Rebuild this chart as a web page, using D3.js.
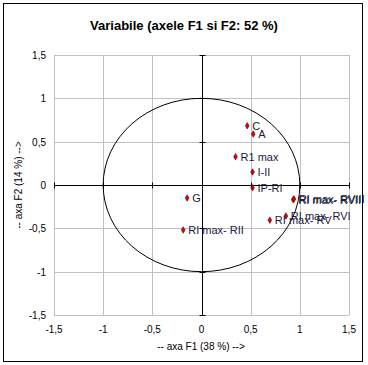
<!DOCTYPE html>
<html><head><meta charset="utf-8">
<script src="https://cdn.jsdelivr.net/npm/d3@7"></script>
<style>body{margin:0;background:#fff;}svg{display:block;font-family:"Liberation Sans",Arial,sans-serif;}</style>
</head><body>
<svg id="c" width="368" height="365"></svg>
<script>
const labels = ["C","A","R1 max","I-II","IP-RI","RI max- RVII","RI max- RVIII","RI max- RVI","RI max- RV","G","RI max- RII"];
const f1 = [0.465,0.526,0.346,0.519,0.519,0.933,0.940,0.858,0.695,-0.146,-0.186];
const f2 = [0.684,0.588,0.327,0.150,-0.031,-0.170,-0.160,-0.358,-0.407,-0.150,-0.519];
const ticks = [-1.5,-1,-0.5,0,0.5,1,1.5];
const tickLabels = ["-1,5","-1","-0,5","0","0,5","1","1,5"];

const svg = d3.select("#c");
svg.append("rect").attr("x",3.5).attr("y",3.5).attr("width",359).attr("height",358).attr("fill","#fff").attr("stroke","#000").attr("stroke-width",1);
svg.append("text").attr("x",184).attr("y",30).attr("text-anchor","middle").attr("font-size",13).attr("font-weight","bold").text("Variabile (axele F1 si F2: 52 %)");

const x = d3.scaleLinear().domain([-1.5,1.5]).range([54,349]);
const y = d3.scaleLinear().domain([-1.5,1.5]).range([315,55]);

const g = svg.append("g");
ticks.forEach(t=>{
  g.append("line").attr("x1",Math.round(x(t))+0.5).attr("x2",Math.round(x(t))+0.5).attr("y1",y(1.5)).attr("y2",y(-1.5)).attr("stroke","#c0c0c0");
  g.append("line").attr("y1",Math.round(y(t))+0.5).attr("y2",Math.round(y(t))+0.5).attr("x1",x(-1.5)).attr("x2",x(1.5)).attr("stroke","#c0c0c0");
});
const x0 = Math.round(x(0))+0.5, y0 = Math.round(y(0))+0.5;
g.append("line").attr("x1",x(-1.5)).attr("x2",x(1.5)).attr("y1",y0).attr("y2",y0).attr("stroke","#000");
g.append("line").attr("x1",x0).attr("x2",x0).attr("y1",y(1.5)).attr("y2",y(-1.5)).attr("stroke","#000");
ticks.forEach(t=>{
  const xx=Math.round(x(t))+0.5, yy=Math.round(y(t))+0.5;
  g.append("line").attr("x1",xx).attr("x2",xx).attr("y1",y0-3).attr("y2",y0+3).attr("stroke","#000");
  g.append("line").attr("x1",x0-3).attr("x2",x0+3).attr("y1",yy).attr("y2",yy).attr("stroke","#000");
});
ticks.forEach((t,i)=>{
  svg.append("text").attr("x",x(t)).attr("y",333).attr("text-anchor","middle").attr("font-size",10).text(tickLabels[i]);
  svg.append("text").attr("x",46).attr("y",y(t)+4).attr("text-anchor","end").attr("font-size",10).text(tickLabels[i]);
});
g.append("ellipse").attr("cx",x(0)).attr("cy",y(0)).attr("rx",x(1)-x(0)).attr("ry",y(0)-y(1)).attr("fill","none").attr("stroke","#000").attr("stroke-width",1);
const pts = svg.append("g");
labels.forEach((l,i)=>{
  const px=x(f1[i]), py=y(f2[i]);
  pts.append("path").attr("d",d3.symbol(d3.symbolDiamond,12)()).attr("transform",`translate(${px},${py})`).attr("fill","#e00000").attr("stroke","#600000").attr("stroke-width",0.6);
  pts.append("text").attr("x",px+5).attr("y",py+4).attr("font-size",11).attr("fill","#1a1a3a").text(l);
});
svg.append("text").attr("x",201).attr("y",350).attr("text-anchor","middle").attr("font-size",10).text("-- axa F1 (38 %) -->");
svg.append("text").attr("transform","translate(22,185) rotate(-90)").attr("text-anchor","middle").attr("font-size",10).text("-- axa F2 (14 %) -->");
</script>
</body></html>
